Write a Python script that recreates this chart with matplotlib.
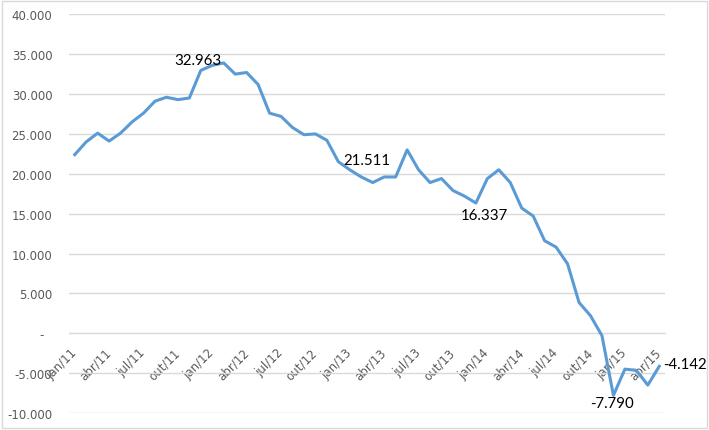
"""
Saldo mensal acumulado, jan/11 a abr/15
"""

import matplotlib

matplotlib.use("Agg")
import matplotlib.pyplot as plt
from matplotlib.patches import Rectangle
from matplotlib.ticker import FuncFormatter, MultipleLocator

# month labels (pt-BR), jan/11 .. abr/15
meses = ["jan", "fev", "mar", "abr", "mai", "jun",
         "jul", "ago", "set", "out", "nov", "dez"]
periodos = [f"{m}/{a}" for a in range(11, 16) for m in meses][:52]

valores = [
    22400, 24000, 25100, 24100, 25100, 26500, 27600, 29100, 29600, 29300,
    29500, 32963, 33600, 33900, 32500, 32700, 31200, 27600, 27200, 25800,
    24900, 25000, 24200, 21511, 20500, 19600, 18900, 19600, 19600, 23000,
    20500, 18900, 19400, 17900, 17200, 16337, 19400, 20500, 18900, 15700,
    14700, 11600, 10800, 8700, 3860, 2200, -300, -7790, -4500, -4650,
    -6500, -4142,
]

# (index, dx px, dy px, ha, va) for the labelled points
rotulos = [
    (11, -3, 3, "center", "bottom"),
    (23, 5, 2, "left", "center"),
    (35, 9, -5, "center", "top"),
    (47, -1, -1, "center", "top"),
    (51, 4, 2, "left", "center"),
]

azul = "#5b9bd5"
cinza_grade = "#d9d9d9"
cinza_texto = "#595959"


def fmt_br(v, _pos=None):
    """Excel-like number format with '.' as thousands separator"""
    if abs(v) < 0.5:
        return "-  "
    s = f"{abs(v):,.0f}".replace(",", ".")
    return f"-{s}" if v < 0 else s


fig = plt.figure(figsize=(7.09, 4.31), dpi=100)
ax = fig.add_axes([69 / 709, 1 - 414 / 431, 596 / 709, (414 - 15.3) / 431])

x = list(range(len(valores)))
ax.plot(x, valores, color=azul, lw=2.2, solid_joinstyle="round", zorder=3)

ax.set_xlim(-0.5, len(valores) - 0.5)
ax.set_ylim(-10000, 40000)
ax.yaxis.set_major_locator(MultipleLocator(5000))
ax.yaxis.set_major_formatter(FuncFormatter(fmt_br))
ax.grid(True, axis="y", color=cinza_grade, lw=1)
ax.set_axisbelow(True)

for lado in ("top", "right", "left"):
    ax.spines[lado].set_visible(False)
# category axis crosses at zero, like in Excel
ax.spines["bottom"].set_position(("data", 0))
ax.spines["bottom"].set_color(cinza_grade)

ticks = x[::3]
ax.set_xticks(ticks)
ax.set_xticklabels([periodos[i] for i in ticks], rotation=45, ha="right",
                   va="center", rotation_mode="anchor")
ax.tick_params(axis="x", length=0, pad=12, labelsize=8.5, labelcolor=cinza_texto)
ax.tick_params(axis="y", length=0, pad=12, labelsize=8.5, labelcolor=cinza_texto)

for i, dx, dy, ha, va in rotulos:
    ax.annotate(fmt_br(valores[i]), (i, valores[i]), xytext=(dx, dy),
                textcoords="offset pixels", ha=ha, va=va, fontsize=10.8,
                family="Lato", color="black", zorder=4)

# light frame around the chart area
fig.patches.append(Rectangle((2 / 709, 2 / 431), 705 / 709, 427 / 431,
                             transform=fig.transFigure, fill=False,
                             edgecolor=cinza_grade, lw=1))

fig.savefig("out.png", dpi=100, facecolor="white")
